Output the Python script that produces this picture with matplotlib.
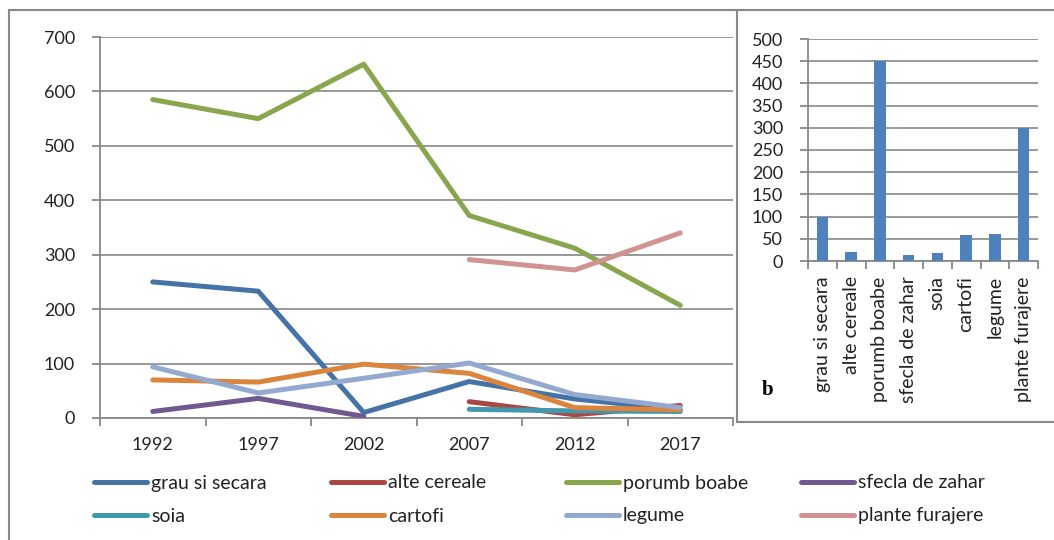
import matplotlib
matplotlib.use("Agg")
import matplotlib.pyplot as plt
import numpy as np
from matplotlib.lines import Line2D

nan = np.nan

# ---------------- data ----------------
years = ["1992", "1997", "2002", "2007", "2012", "2017"]
series_names = ["grau si secara", "alte cereale", "porumb boabe", "sfecla de zahar",
                "soia", "cartofi", "legume", "plante furajere"]

grau_si_secara = [250, 233, 10, 67, 35, 15]
alte_cereale = [nan, nan, nan, 30, 6, 23]
porumb_boabe = [585, 550, 650, 372, 312, 207]
sfecla_de_zahar = [12, 36, 3, nan, nan, nan]
soia = [nan, nan, nan, 16, 13, 12]
cartofi = [70, 66, 99, 82, 19, 15]
legume = [94, 46, 73, 101, 43, 19]
plante_furajere = [nan, nan, nan, 291, 272, 340]

bar_categories = series_names
bar_values = [100, 20, 450, 13, 17, 58, 60, 300]

series_values = [grau_si_secara, alte_cereale, porumb_boabe, sfecla_de_zahar,
                 soia, cartofi, legume, plante_furajere]
colors = ["#4572A7", "#AA4643", "#89A54E", "#71588F",
          "#4198AF", "#DB843D", "#93A9CF", "#D19392"]

# ---------------- style ----------------
plt.rcParams['font.family'] = ['Lato', 'DejaVu Sans']
W, H = 1054, 540
GRID = "#888888"
TXT = "#222222"
LW = 3.6
fig = plt.figure(figsize=(W / 100, H / 100), dpi=100)


def fx(px):
    return px / W


def fy(py):
    return 1 - py / H


# ---------------- left line chart ----------------
ax = fig.add_axes([fx(100), fy(418), fx(733) - fx(100), fy(37) - fy(418)])
x = np.arange(len(years))
for vals, c in zip(series_values, colors):
    ax.plot(x, vals, color=c, lw=LW, solid_capstyle='round',
            solid_joinstyle='round', zorder=3)
ax.set_xlim(-0.5, len(years) - 0.5)
ax.set_ylim(0, 700)
ax.set_yticks(np.arange(0, 701, 100))
ax.set_xticks(x)
ax.set_xticklabels(years)
ax.set_xticks(np.arange(-0.5, len(years), 1.0), minor=True)
ax.tick_params(axis='x', which='major', length=0, pad=14, labelsize=13, labelcolor=TXT)
ax.tick_params(axis='x', which='minor', length=6, width=1.3, color=GRID, direction='out')
ax.tick_params(axis='y', length=6, width=1.3, color=GRID, pad=12, labelsize=13,
               labelcolor=TXT)
ax.yaxis.grid(True, color=GRID, lw=1.2)
ax.set_axisbelow(True)
for s in ['top', 'right']:
    ax.spines[s].set_visible(False)
for s in ['left', 'bottom']:
    ax.spines[s].set_color(GRID)
    ax.spines[s].set_linewidth(1.3)

# ---------------- right bar chart ----------------
ax2 = fig.add_axes([fx(808), fy(261), fx(1038) - fx(808), fy(39) - fy(261)])
xb = np.arange(len(bar_categories))
ax2.bar(xb, bar_values, width=0.4, color="#4F81BD", zorder=3)
ax2.set_xlim(-0.5, len(bar_categories) - 0.5)
ax2.set_ylim(0, 500)
ax2.set_yticks(np.arange(0, 501, 50))
ax2.set_xticks(xb)
ax2.set_xticklabels(bar_categories, rotation=90, ha='center', va='top')
ax2.set_xticks(np.arange(-0.5, len(bar_categories), 1.0), minor=True)
ax2.tick_params(axis='x', which='major', length=0, pad=11, labelsize=14, labelcolor=TXT)
ax2.tick_params(axis='x', which='minor', length=6, width=1.3, color=GRID)
ax2.tick_params(axis='y', length=6, width=1.3, color=GRID, pad=12, labelsize=13,
                labelcolor=TXT)
ax2.yaxis.grid(True, color=GRID, lw=1.2)
ax2.set_axisbelow(True)
for s in ['top', 'right']:
    ax2.spines[s].set_visible(False)
for s in ['left', 'bottom']:
    ax2.spines[s].set_color(GRID)
    ax2.spines[s].set_linewidth(1.3)

fig.text(fx(768), fy(390), "b", family=['Liberation Serif', 'DejaVu Serif'],
         fontweight='bold', fontsize=15, ha='center', va='center')

# ---------------- legend ----------------
col_x = [92, 329, 564, 799]
row_y = [482, 515]
for i, (name, c) in enumerate(zip(series_names, colors)):
    x0 = col_x[i % 4]
    y0 = row_y[i // 4]
    fig.add_artist(Line2D([fx(x0 + 2), fx(x0 + 55)], [fy(y0), fy(y0)],
                          transform=fig.transFigure, color=c, lw=LW,
                          solid_capstyle='round'))
    fig.text(fx(x0 + 59), fy(y0 + 1), name, fontsize=14, ha='left', va='center',
             color=TXT)

# ---------------- frame lines ----------------
frame_kw = dict(transform=fig.transFigure, color=GRID, lw=1.5)
fig.add_artist(Line2D([fx(9), 1], [fy(10), fy(10)], **frame_kw))
fig.add_artist(Line2D([fx(9), fx(9)], [fy(10), 0], **frame_kw))
fig.add_artist(Line2D([fx(737), fx(737)], [fy(10), fy(422)], **frame_kw))
fig.add_artist(Line2D([fx(737), 1], [fy(422), fy(422)], **frame_kw))

fig.savefig("out.png", dpi=100)
